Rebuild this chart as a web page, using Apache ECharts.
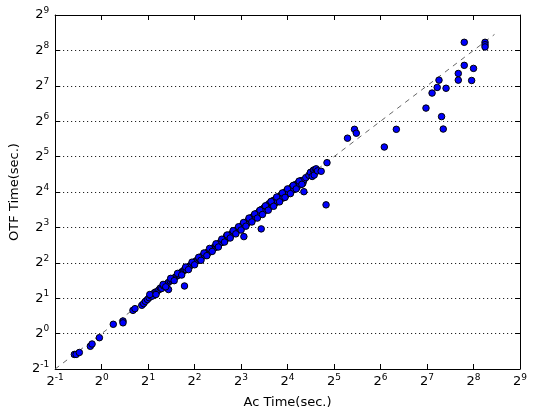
<!DOCTYPE html>
<html>
<head>
<meta charset="utf-8">
<script src="https://cdn.jsdelivr.net/npm/echarts@6/dist/echarts.min.js"></script>
<style>
  html, body { margin: 0; padding: 0; background: #fff; }
  #main { width: 534px; height: 414px; }
</style>
</head>
<body>
<div id="main"></div>
<script>
// Ac time vs OTF time (seconds)
var acTime = [
  0.666, 0.684, 0.717, 0.845, 0.867, 0.967, 1.19, 1.375, 1.375, 1.595, 1.644, 1.82,
  1.87, 1.92, 1.98, 2.03, 2.08, 2.12, 2.18, 2.22, 2.28, 2.35, 2.40, 2.45, 2.52, 2.58, 2.71, 2.70,
  2.78, 2.85, 2.92, 3.00, 3.08, 3.15, 3.22, 3.30, 3.38, 3.45, 3.44, 3.52, 3.60, 3.68, 3.75, 3.82,
  3.90, 3.98,
  4.05, 4.12, 4.20, 4.28, 4.35, 4.42, 4.50, 4.58, 4.65, 4.72, 4.80, 4.88, 4.95, 5.05, 5.12, 5.20,
  5.30, 5.38, 5.45, 5.55, 5.65, 5.72, 5.82, 5.90, 6.00, 6.10, 6.20, 6.30, 6.40, 6.50, 6.45, 6.60,
  6.70, 6.80, 6.90, 7.00, 7.10, 7.20, 7.30, 7.40, 7.50, 7.62, 7.75, 7.85, 7.95,
  8.05, 8.15, 8.25, 8.40, 8.34, 8.55, 8.70, 8.85, 9.00, 9.15, 9.30, 9.45, 9.60, 9.80, 9.95, 10.1,
  10.3, 10.5, 10.7, 10.8, 10.9, 11.1, 11.3, 11.5, 11.7, 11.9, 12.1, 12.3, 12.5, 12.8, 13.0, 13.2,
  13.5, 13.8, 14.0, 14.3, 14.6, 14.9, 15.2, 15.5, 15.8, 16.2, 16.5, 16.8, 17.2, 17.6, 18.0, 18.4,
  18.8, 19.2, 19.6, 20.0, 20.1, 20.4, 20.4, 21.0,
  22.0, 22.5, 23.1, 23.5, 23.7, 23.8, 24.4, 24.5, 25.0, 26.4, 28.4, 28.8,
  39.1, 43.4, 44.6, 67.7, 81.0,
  126, 138, 149, 153, 159, 163, 170, 204, 204, 223, 223, 249, 256, 304, 304, 304,
  2.05, 2.25, 2.50, 2.60, 2.80, 2.95, 3.10, 3.30, 3.50, 3.65, 3.85, 4.00, 4.25, 4.40, 4.60, 4.80,
  5.00, 5.20, 5.50, 5.70, 6.00, 6.25, 6.50, 6.80, 7.10, 7.40, 7.70, 8.00, 8.30, 8.60, 9.00, 9.40,
  9.80, 10.2, 10.6, 11.0, 11.5, 12.0, 12.5, 13.0, 13.6, 14.2, 14.8, 15.4, 16.0, 16.7, 17.4, 18.2,
  19.0, 19.8
];
var otfTime = [
  0.665, 0.665, 0.691, 0.78, 0.816, 0.923, 1.20, 1.28, 1.235, 1.576, 1.63, 1.74,
  1.80, 1.88, 1.95, 2.02, 2.10, 2.08, 2.20, 2.25, 2.27, 2.36, 2.44, 2.42, 2.55, 2.60, 2.37, 2.72,
  2.80, 2.84, 2.95, 3.02, 3.10, 3.15, 3.25, 3.35, 3.40, 3.52, 2.54, 3.50, 3.62, 3.72, 3.78, 3.85,
  3.95, 4.02,
  4.10, 4.18, 4.22, 4.35, 4.30, 4.50, 4.55, 4.62, 4.60, 4.80, 4.85, 4.95, 4.90, 5.10, 5.20, 5.15,
  5.35, 5.45, 5.40, 5.62, 5.70, 5.65, 5.90, 6.00, 5.95, 6.20, 6.30, 6.25, 6.50, 6.62, 6.80, 6.55,
  6.85, 6.75, 7.00, 7.10, 7.05, 7.35, 7.25, 7.55, 7.45, 7.75, 7.70, 8.00, 7.90,
  8.20, 8.10, 8.50, 8.35, 6.68, 8.80, 8.60, 9.10, 8.90, 9.40, 9.20, 9.80, 9.50, 10.2, 9.70, 10.5,
  10.1, 11.0, 10.4, 7.77, 11.4, 10.8, 11.8, 11.2, 12.2, 11.6, 12.7, 12.0, 13.0, 12.4, 13.6, 12.8,
  14.0, 13.2, 14.6, 13.9, 15.2, 14.2, 15.8, 14.8, 16.4, 15.6, 17.0, 16.1, 17.8, 16.8, 18.5, 17.6,
  19.2, 18.4, 20.0, 19.2, 19.0, 20.2, 16.1, 21.2,
  22.2, 23.5, 21.7, 24.5, 24.6, 22.3, 24.8, 25.2, 24.2, 24.0, 12.44, 28.4,
  45.9, 54.6, 50.6, 38.6, 54.6,
  82.7, 111, 124, 143, 70, 54.9, 122, 163, 143, 300, 191, 142, 180, 300, 286, 274,
  2.15, 2.15, 2.62, 2.50, 2.95, 2.82, 3.25, 3.15, 3.68, 3.50, 4.05, 3.85, 4.45, 4.20, 4.85, 4.60,
  5.30, 5.00, 5.80, 5.45, 6.35, 6.00, 6.90, 6.50, 7.50, 7.05, 8.10, 7.60, 8.80, 8.20, 9.60, 8.90,
  10.4, 9.60, 11.2, 10.3, 12.2, 11.2, 13.3, 12.1, 14.5, 13.2, 15.7, 14.4, 17.0, 15.5, 18.2, 17.0,
  19.8, 18.6
];
var diagonal = [0.5, 350];

var points = [];
for (var i = 0; i < acTime.length; i++) {
  points.push([acTime[i], otfTime[i]]);
}

function powLabel(v) {
  var e = Math.round(Math.log(v) / Math.LN2);
  return '{b|2}{s|' + e + '}';
}

var labelRich = {
  b: { fontSize: 13, fontFamily: 'DejaVu Sans', color: '#000' },
  s: { fontSize: 9, fontFamily: 'DejaVu Sans', color: '#000', padding: [0, 0, 9, 0] }
};

var frameLine = { show: true, onZero: false, lineStyle: { color: '#000', width: 1 } };
var innerTick = { show: true, inside: true, length: 5, lineStyle: { color: '#000' } };

function logAxis(pos, labels, grid) {
  return {
    type: 'log',
    logBase: 2,
    min: 0.5,
    max: 512,
    interval: 1,
    position: pos,
    axisLine: frameLine,
    axisTick: innerTick,
    minorTick: { show: false },
    axisLabel: labels ? {
      show: true,
      formatter: powLabel,
      rich: labelRich,
      margin: pos === 'bottom' ? 4 : 6
    } : { show: false },
    splitLine: grid ? {
      show: true,
      lineStyle: { color: '#000', type: [1, 3], width: 1 }
    } : { show: false }
  };
}

var xBottom = logAxis('bottom', true, false);
xBottom.name = 'Ac Time(sec.)';
xBottom.nameLocation = 'middle';
xBottom.nameGap = 27;
xBottom.nameTextStyle = { fontSize: 13, fontFamily: 'DejaVu Sans', color: '#000' };

var yLeft = logAxis('left', true, true);
yLeft.name = 'OTF Time(sec.)';
yLeft.nameLocation = 'middle';
yLeft.nameGap = 34;
yLeft.nameTextStyle = { fontSize: 13, fontFamily: 'DejaVu Sans', color: '#000' };

var chart = echarts.init(document.getElementById('main'));
chart.setOption({
  animation: false,
  backgroundColor: '#fff',
  grid: { left: 54, right: 14, top: 15, bottom: 41 },
  xAxis: [xBottom, logAxis('top', false, false)],
  yAxis: [yLeft, logAxis('right', false, false)],
  series: [
    {
      type: 'line',
      data: [[diagonal[0], diagonal[0]], [diagonal[1], diagonal[1]]],
      symbol: 'none',
      silent: true,
      lineStyle: { color: '#666', width: 1, type: [5, 5] },
      z: 1
    },
    {
      type: 'scatter',
      data: points,
      symbolSize: 6.5,
      itemStyle: { color: '#0000ff', borderColor: '#000', borderWidth: 1, opacity: 1 },
      z: 2
    }
  ]
});
</script>
</body>
</html>
